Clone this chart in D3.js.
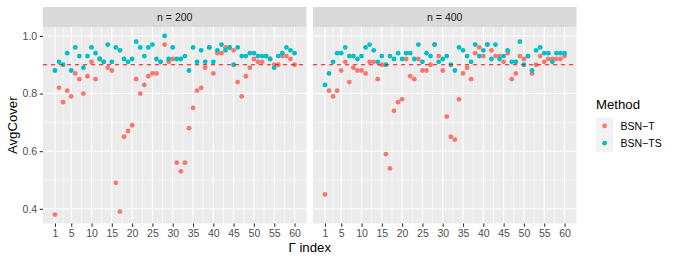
<!DOCTYPE html>
<html>
<head>
<meta charset="utf-8">
<title>AvgCover</title>
<script src="https://d3js.org/d3.v7.min.js"></script>
<style>
	body { margin: 0; background: #fff; }
	text { font-family: "Liberation Sans", Arial, Helvetica, sans-serif; }
</style>
</head>
<body>
<script>
// data
var gammaIndex = d3.range(1, 61);
var panelNames = ["n = 200", "n = 400"];
var methods = ["BSN\u2212T", "BSN\u2212TS"];
var xBreaks = [1, 5, 10, 15, 20, 25, 30, 35, 40, 45, 50, 55, 60];
var yBreaks = [0.4, 0.6, 0.8, 1.0];

var bsnT200 = [0.38, 0.82, 0.77, 0.81, 0.79, 0.87, 0.85, 0.80, 0.86, 0.91,
	0.85, 0.92, 0.91, 0.89, 0.88, 0.49, 0.39, 0.65, 0.67, 0.69,
	0.85, 0.80, 0.83, 0.86, 0.87, 0.87, 0.91, 0.97, 0.91, 0.92,
	0.56, 0.53, 0.56, 0.68, 0.75, 0.81, 0.82, 0.89, 0.96, 0.87,
	0.94, 0.94, 0.96, 0.96, 0.95, 0.84, 0.79, 0.86, 0.89, 0.92,
	0.91, 0.91, 0.93, 0.92, 0.90, 0.90, 0.93, 0.93, 0.92, 0.90];
var bsnTS200 = [0.88, 0.91, 0.90, 0.94, 0.88, 0.96, 0.93, 0.89, 0.93, 0.96,
	0.94, 0.92, 0.91, 0.97, 0.91, 0.96, 0.95, 0.92, 0.91, 0.92,
	0.98, 0.96, 0.93, 0.96, 0.97, 0.92, 0.91, 1.00, 0.92, 0.96,
	0.92, 0.92, 0.93, 0.88, 0.96, 0.91, 0.95, 0.91, 0.96, 0.91,
	0.95, 0.97, 0.95, 0.96, 0.90, 0.96, 0.93, 0.93, 0.94, 0.94,
	0.93, 0.93, 0.93, 0.92, 0.89, 0.93, 0.94, 0.96, 0.95, 0.94];
var bsnT400 = [0.45, 0.81, 0.79, 0.81, 0.88, 0.91, 0.84, 0.89, 0.88, 0.88,
	0.87, 0.91, 0.91, 0.85, 0.90, 0.59, 0.54, 0.74, 0.77, 0.78,
	0.92, 0.86, 0.85, 0.92, 0.88, 0.88, 0.90, 0.97, 0.93, 0.88,
	0.72, 0.65, 0.64, 0.78, 0.87, 0.89, 0.85, 0.94, 0.96, 0.93,
	0.97, 0.95, 0.93, 0.93, 0.91, 0.94, 0.85, 0.87, 0.93, 0.92,
	0.93, 0.87, 0.90, 0.93, 0.91, 0.92, 0.92, 0.92, 0.92, 0.93];
var bsnTS400 = [0.83, 0.87, 0.91, 0.94, 0.94, 0.96, 0.93, 0.93, 0.92, 0.93,
	0.96, 0.97, 0.95, 0.91, 0.93, 0.90, 0.93, 0.92, 0.94, 0.92,
	0.94, 0.94, 0.92, 0.97, 0.91, 0.94, 0.93, 0.97, 0.91, 0.92,
	0.93, 0.90, 0.88, 0.96, 0.95, 0.93, 0.91, 0.97, 0.93, 0.95,
	0.97, 0.92, 0.97, 0.92, 0.93, 0.95, 0.91, 0.91, 0.98, 0.90,
	0.93, 0.88, 0.95, 0.96, 0.94, 0.94, 0.91, 0.94, 0.94, 0.94];
var refLine = 0.9;

var series = [[bsnT200, bsnTS200], [bsnT400, bsnTS400]];
var colors = ["#F8766D", "#00BFC4"];

var W = 675, H = 263;
var panelW = 263.5, panelTop = 27, panelBottom = 223.5;
var panelX = [43, 313];
var ptR = 2.4;

var svg = d3.select("body").append("svg")
	.attr("width", W)
	.attr("height", H);

// ggplot style 5% expansion
var xExt = [1, 60], xPad = (xExt[1] - xExt[0]) * 0.05;
var yExt = [0.38, 1.0], yPad = (yExt[1] - yExt[0]) * 0.05;

var y = d3.scaleLinear()
	.domain([yExt[0] - yPad, yExt[1] + yPad])
	.range([panelBottom, panelTop]);

var yMinor = [0.5, 0.7, 0.9];
var xMinor = [3, 7.5, 12.5, 17.5, 22.5, 27.5, 32.5, 37.5, 42.5, 47.5, 52.5, 57.5];

panelNames.forEach(function(name, p) {
	var x = d3.scaleLinear()
		.domain([xExt[0] - xPad, xExt[1] + xPad])
		.range([panelX[p], panelX[p] + panelW]);

	var g = svg.append("g");

	// strip
	g.append("rect")
		.attr("x", panelX[p]).attr("y", 7)
		.attr("width", panelW).attr("height", panelTop - 7)
		.attr("fill", "#D9D9D9");
	g.append("text")
		.attr("x", panelX[p] + panelW / 2).attr("y", 17)
		.attr("dy", "0.35em")
		.attr("text-anchor", "middle")
		.attr("font-size", 10.5)
		.attr("fill", "#1A1A1A")
		.text(name);

	// panel background
	g.append("rect")
		.attr("x", panelX[p]).attr("y", panelTop)
		.attr("width", panelW).attr("height", panelBottom - panelTop)
		.attr("fill", "#EBEBEB");

	// grid
	g.selectAll(".xminor").data(xMinor).enter().append("line")
		.attr("x1", function(d) { return x(d); }).attr("x2", function(d) { return x(d); })
		.attr("y1", panelTop).attr("y2", panelBottom)
		.attr("stroke", "#fff").attr("stroke-width", 0.55);
	g.selectAll(".yminor").data(yMinor).enter().append("line")
		.attr("x1", panelX[p]).attr("x2", panelX[p] + panelW)
		.attr("y1", function(d) { return y(d); }).attr("y2", function(d) { return y(d); })
		.attr("stroke", "#fff").attr("stroke-width", 0.55);
	g.selectAll(".xmajor").data(xBreaks).enter().append("line")
		.attr("x1", function(d) { return x(d); }).attr("x2", function(d) { return x(d); })
		.attr("y1", panelTop).attr("y2", panelBottom)
		.attr("stroke", "#fff").attr("stroke-width", 1.1);
	g.selectAll(".ymajor").data(yBreaks).enter().append("line")
		.attr("x1", panelX[p]).attr("x2", panelX[p] + panelW)
		.attr("y1", function(d) { return y(d); }).attr("y2", function(d) { return y(d); })
		.attr("stroke", "#fff").attr("stroke-width", 1.1);

	// points, BSN-T first then BSN-TS on top
	series[p].forEach(function(vals, m) {
		g.append("g").selectAll("circle")
			.data(vals)
			.enter().append("circle")
			.attr("cx", function(d, i) { return x(gammaIndex[i]); })
			.attr("cy", function(d) { return y(d); })
			.attr("r", ptR)
			.attr("fill", colors[m]);
	});

	// reference line
	g.append("line")
		.attr("x1", panelX[p]).attr("x2", panelX[p] + panelW)
		.attr("y1", y(refLine)).attr("y2", y(refLine))
		.attr("stroke", "#FF0000")
		.attr("stroke-width", 1.1)
		.attr("stroke-dasharray", "4,4");

	// x axis
	var xAxis = g.append("g")
		.attr("transform", "translate(0," + panelBottom + ")")
		.call(d3.axisBottom(x).tickValues(xBreaks).tickSize(3.3).tickPadding(2.5));
	xAxis.select(".domain").remove();
	xAxis.selectAll("line").attr("stroke", "#333333").attr("stroke-width", 1.1);
	xAxis.selectAll("text").attr("fill", "#4D4D4D").attr("font-size", 10.5)
		.attr("font-family", "Liberation Sans, Arial, sans-serif");

	if (p === 0) {
		var yAxis = g.append("g")
			.attr("transform", "translate(" + panelX[0] + ",0)")
			.call(d3.axisLeft(y).tickValues(yBreaks).tickFormat(d3.format(".1f")).tickSize(3.3).tickPadding(2.5));
		yAxis.select(".domain").remove();
		yAxis.selectAll("line").attr("stroke", "#333333").attr("stroke-width", 1.1);
		yAxis.selectAll("text").attr("fill", "#4D4D4D").attr("font-size", 10.5)
			.attr("font-family", "Liberation Sans, Arial, sans-serif");
	}
});

// axis titles
svg.append("text")
	.attr("x", (panelX[0] + panelX[1] + panelW) / 2)
	.attr("y", 252)
	.attr("text-anchor", "middle")
	.attr("font-size", 13.2)
	.text("\u0393 index");

svg.append("text")
	.attr("transform", "translate(17," + (panelTop + panelBottom) / 2 + ") rotate(-90)")
	.attr("text-anchor", "middle")
	.attr("font-size", 13.2)
	.text("AvgCover");

// legend
var leg = svg.append("g").attr("transform", "translate(596,0)");
leg.append("text")
	.attr("x", 0).attr("y", 109)
	.attr("font-size", 13.2)
	.text("Method");
methods.forEach(function(m, i) {
	var ky = 117.3 + i * 17.3;
	leg.append("rect")
		.attr("x", 0).attr("y", ky)
		.attr("width", 17.3).attr("height", 17.3)
		.attr("fill", "#F2F2F2");
	leg.append("circle")
		.attr("cx", 8.6).attr("cy", ky + 8.6)
		.attr("r", ptR)
		.attr("fill", colors[i]);
	leg.append("text")
		.attr("x", 24.5).attr("y", ky + 8.6)
		.attr("dy", "0.35em")
		.attr("font-size", 10.5)
		.text(m);
});
</script>
</body>
</html>
